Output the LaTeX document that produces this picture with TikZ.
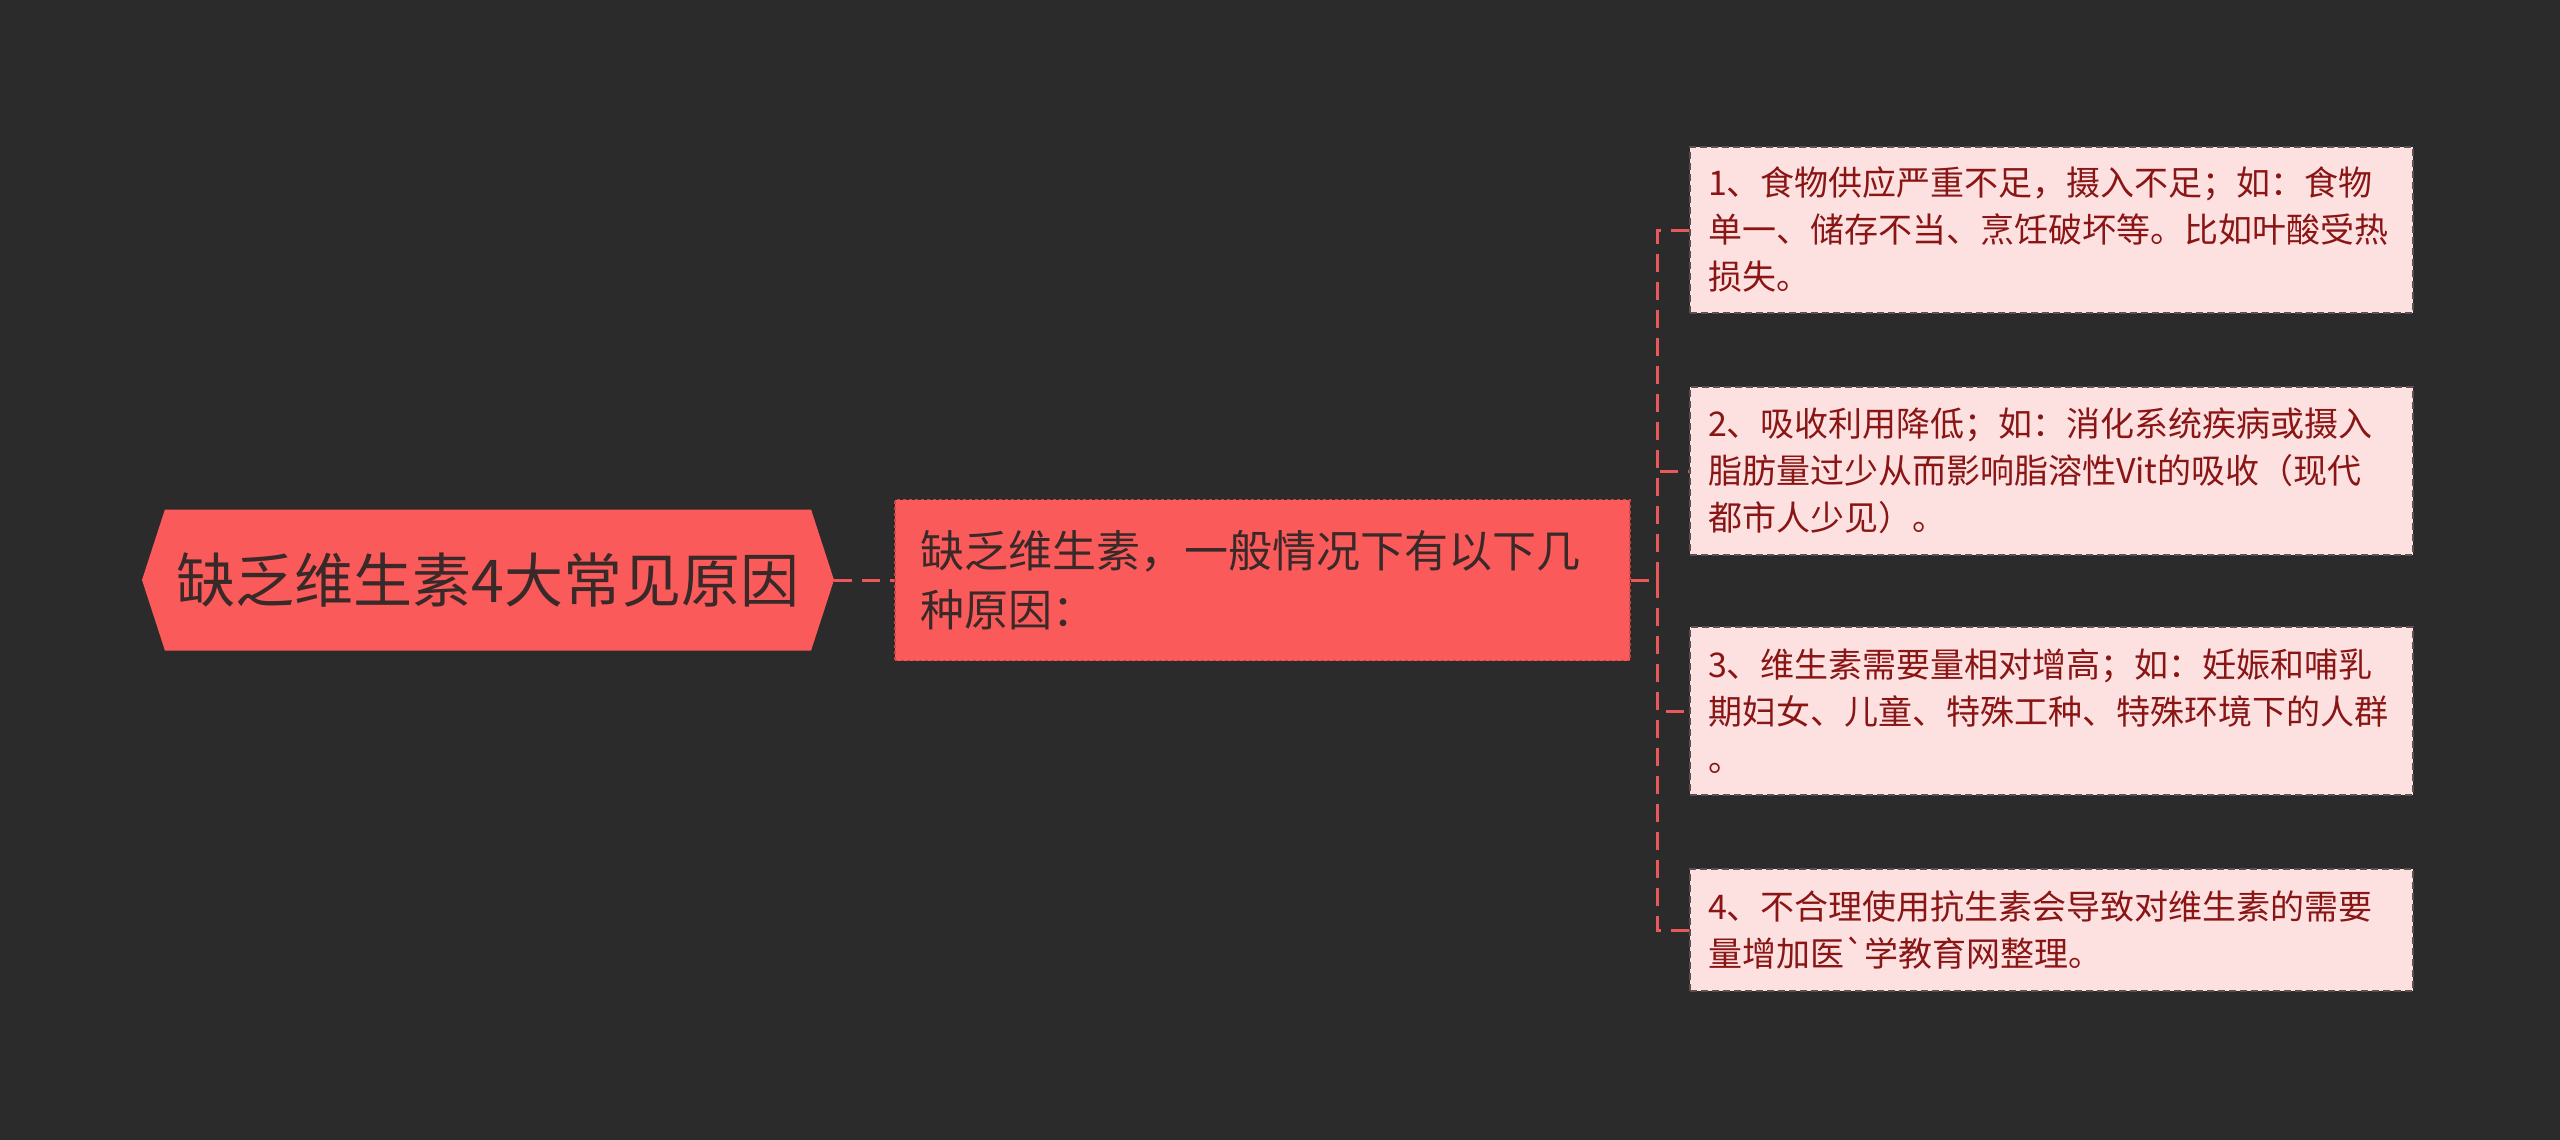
\documentclass[tikz,border=0pt]{standalone}
\usepackage{fontspec}
\setmainfont{Noto Sans CJK SC}
\usetikzlibrary{positioning, shapes.symbols}
\definecolor{bgdark}{HTML}{2B2B2B}
\definecolor{coral}{HTML}{FA5A5A}
\definecolor{coraledge}{HTML}{C84848}
\definecolor{coralline}{HTML}{E9585A}
\definecolor{blush}{HTML}{FDE1E1}
\definecolor{blushedge}{HTML}{5E5050}
\definecolor{wine}{HTML}{8A1515}
\definecolor{inkdark}{HTML}{3A2929}

\begin{document}
\begin{tikzpicture}[x=1pt, y=-1pt,
  topic/.style={shape=signal, signal to=west and east, signal pointer angle=144,
                fill=coral, draw=none, minimum width=692pt, minimum height=141pt,
                inner sep=0pt, text=inkdark, font=\fontsize{59}{62}\selectfont},
  reason/.style={rectangle, fill=coral, draw=coraledge, dashed, line width=1.5pt,
                 text width=683pt, inner xsep=26pt, minimum height=161pt,
                 align=left, text=inkdark, font=\fontsize{44}{59}\selectfont},
  cause/.style={rectangle, fill=blush, draw=blushedge, line width=1.5pt,
                dash pattern=on 7pt off 4pt, text width=687pt, inner xsep=18pt,
                align=left, text=wine, font=\fontsize{34}{47}\selectfont},
  link/.style={draw=coralline, line width=3pt, dash pattern=on 18pt off 10pt},
]
  \fill[bgdark] (0,0) rectangle (2560,1140);
  \useasboundingbox (0,0) rectangle (2560,1140);

  \node[topic] (root) at (488,580) {缺乏维生素4大常见原因};
  \node[reason, right=60pt of root] (mid) {缺乏维生素，一般情况下有以下几\\种原因：};

  \node[cause, minimum height=166pt] (c1) at (2051.5,230) {1、食物供应严重不足，摄入不足；如：食物\\单一、储存不当、烹饪破坏等。比如叶酸受热\\损失。};
  \node[cause, minimum height=168pt] (c2) at (2051.5,471) {2、吸收利用降低；如：消化系统疾病或摄入\\脂肪量过少从而影响脂溶性Vit的吸收（现代\\都市人少见）。};
  \node[cause, minimum height=168pt] (c3) at (2051.5,711) {3、维生素需要量相对增高；如：妊娠和哺乳\\期妇女、儿童、特殊工种、特殊环境下的人群\\。};
  \node[cause, minimum height=122pt] (c4) at (2051.5,930) {4、不合理使用抗生素会导致对维生素的需要\\量增加医{\addfontfeatures{Ligatures=TeXOff}\char"60}学教育网整理。};

  \coordinate (fork) at (1657,580);

  \draw[link] (root.east) -- (mid.west);
  \draw[link] (mid.east) -- (fork);
  \draw[link] (fork) |- (c1.west);
  \draw[link] (fork) |- (c2.west);
  \draw[link] (fork) |- (c3.west);
  \draw[link] (fork) |- (c4.west);
\end{tikzpicture}
\end{document}
